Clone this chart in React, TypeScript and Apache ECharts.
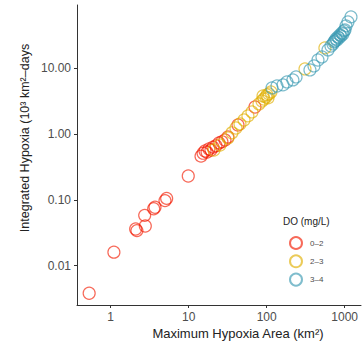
import React, { useEffect, useRef } from "react";
import * as echarts from "echarts";

// DO 0–2 mg/L
const do02Area = [0.53, 1.1, 2.09, 2.17, 2.78, 2.73, 3.56, 3.7, 4.97, 5.22, 9.88, 14.4, 15.3, 16.2, 17.2, 18.2, 19.3, 20.5, 22.4, 24.5, 26.7, 29.2, 31.9, 42.9, 70.8];
const do02Hyp = [0.0038, 0.016, 0.036, 0.034, 0.04, 0.058, 0.073, 0.077, 0.097, 0.105, 0.23, 0.46, 0.51, 0.55, 0.53, 0.59, 0.57, 0.63, 0.66, 0.73, 0.76, 0.81, 0.9, 1.37, 2.57];
// DO 2–3 mg/L
const do23Area = [21.1, 25.2, 31.9, 35.9, 40.4, 45.5, 51.2, 57.5, 64.8, 79.7, 87.1, 92.3, 97.9, 100.9, 107, 113.5, 89.7, 104, 310, 558];
const do23Hyp = [0.57, 0.68, 0.87, 1.04, 1.23, 1.42, 1.63, 1.88, 2.16, 2.86, 3.17, 3.4, 3.65, 3.92, 4.06, 4.35, 3.78, 3.53, 9.72, 20.3];
// DO 3–4 mg/L
const do34Area = [117, 135.6, 162, 182, 217, 238, 359, 404, 455, 512, 611, 667, 708, 729, 751, 773, 796, 820, 845, 871, 897, 923, 951, 980, 1009, 1040, 1102, 1205];
const do34Hyp = [5.0, 5.36, 5.56, 6.17, 6.62, 7.35, 9.39, 10.8, 13.3, 14.8, 18.9, 21.7, 23.3, 25.0, 25.9, 27.8, 26.8, 29.8, 28.8, 32.0, 30.9, 34.3, 33.1, 36.8, 38.1, 43.8, 50.4, 60.0];

const groupNames = ["0–2", "2–3", "3–4"];
const groupColors = ["#F21A00", "#E1AF00", "#3B9AB2"];
const xTickLabels = ["1", "10", "100", "1000"];
const yTickLabels = ["0.01", "0.10", "1.00", "10.00"];

const zip = (a: number[], b: number[]) => a.map((v, i) => [v, b[i]]);

export default function App() {
  const ref = useRef<HTMLDivElement>(null);
  useEffect(() => {
    if (!ref.current) return;
    const chart = echarts.init(ref.current, null, { renderer: "svg" });
    const groups = [zip(do02Area, do02Hyp), zip(do23Area, do23Hyp), zip(do34Area, do34Hyp)];
    const axisColor = "#333";
    const labelColor = "#4d4d4d";
    const font = "Liberation Sans";
    chart.setOption({
      animation: false,
      backgroundColor: "#fff",
      grid: { left: 77, top: 5, right: 2, bottom: 38, containLabel: false },
      xAxis: {
        type: "log",
        logBase: 10,
        min: 0.37,
        max: 1620,
        splitLine: { show: false },
        axisLine: { lineStyle: { color: axisColor, width: 1 } },
        axisTick: { show: true, length: 3, lineStyle: { color: axisColor } },
        axisLabel: {
          color: labelColor,
          fontSize: 12,
          fontFamily: font,
          margin: 6,
          showMinLabel: false,
          showMaxLabel: false,
          formatter: (v: number) => {
            const s = String(Math.round(v));
            return xTickLabels.includes(s) ? s : "";
          },
        },
      },
      yAxis: {
        type: "log",
        logBase: 10,
        min: 0.00252,
        max: 91,
        splitLine: { show: false },
        axisLine: { lineStyle: { color: axisColor, width: 1 } },
        axisTick: { show: true, length: 3, lineStyle: { color: axisColor } },
        axisLabel: {
          color: labelColor,
          fontSize: 12,
          fontFamily: font,
          margin: 6,
          showMinLabel: false,
          showMaxLabel: false,
          formatter: (v: number) => {
            const s = v.toFixed(2);
            return yTickLabels.includes(s) ? s : "";
          },
        },
      },
      legend: {
        orient: "vertical",
        left: 284,
        top: 231,
        itemWidth: 12,
        itemHeight: 12,
        itemGap: 4.3,
        icon: "circle",
        data: groupNames,
        textStyle: { fontSize: 8, color: labelColor, fontFamily: font, padding: [0, 0, 0, 3] },
      },
      graphic: [
        {
          type: "text",
          x: 283,
          y: 221,
          style: { text: "DO (mg/L)", fontSize: 10, fill: "#222", fontFamily: font, textVerticalAlign: "middle" },
        },
        {
          type: "text",
          x: 238,
          y: 333,
          style: { text: "Maximum Hypoxia Area (km²)", fontSize: 13, fill: "#222", fontFamily: font, textAlign: "center", textVerticalAlign: "middle" },
        },
        {
          type: "text",
          x: 25,
          y: 138,
          rotation: Math.PI / 2,
          style: { text: "Integrated Hypoxia (10³ km²–days", fontSize: 12.5, fill: "#222", fontFamily: font, textAlign: "center", textVerticalAlign: "middle" },
        },
      ],
      series: groups.map((g, i) => ({
        name: groupNames[i],
        type: "scatter",
        data: g,
        symbol: "circle",
        symbolSize: 12,
        itemStyle: { color: "transparent", borderColor: groupColors[i], borderWidth: 1.2, opacity: 0.65 },
        emphasis: { disabled: true },
      })),
    });
    return () => chart.dispose();
  }, []);
  return <div ref={ref} style={{ position: "fixed", left: 0, top: 0, width: 363, height: 343 }} />;
}
